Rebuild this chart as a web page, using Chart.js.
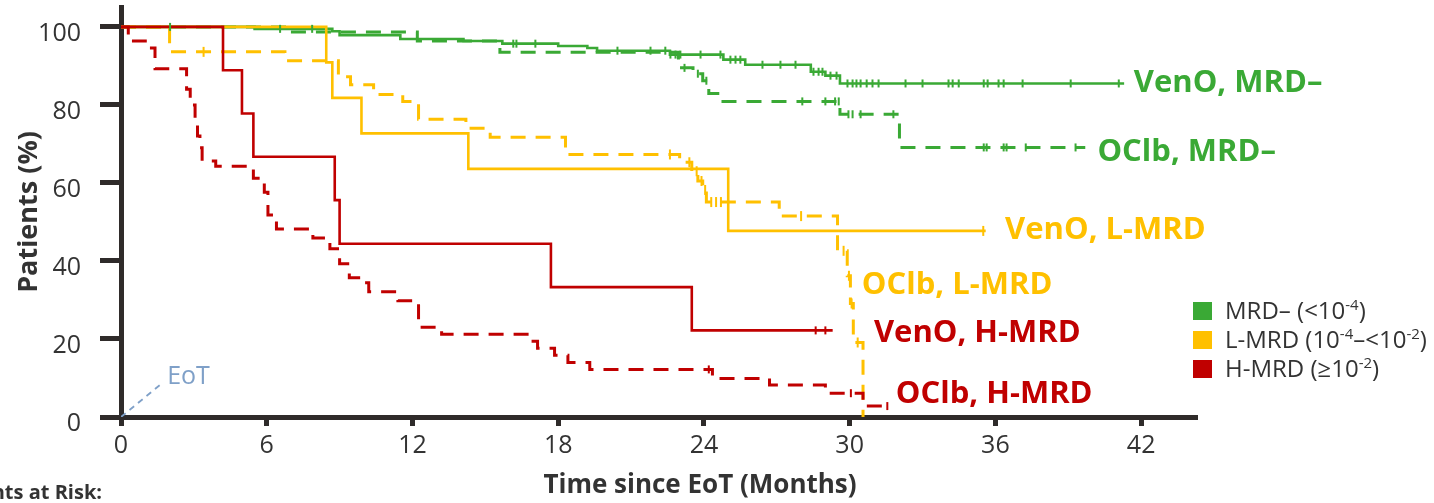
<!DOCTYPE html>
<html><head><meta charset="utf-8">
<script src="https://cdn.jsdelivr.net/npm/chart.js@4.4.1/dist/chart.umd.min.js"></script>
<style>html,body{margin:0;padding:0;background:#fff;}canvas{display:block;}</style>
</head><body>
<canvas id="c" width="1434" height="503"></canvas>
<script>
// ---------- tick labels ----------
const xTicks = [0, 6, 12, 18, 24, 30, 36, 42];
const yTicks = [0, 20, 40, 60, 80, 100];

// ---------- series (months, % patients) ----------
// VenO, MRD– (solid green)
const venoNegT = [0, 5.5, 8.7, 9.0, 11.5, 14.1, 15.7, 18.0, 19.2, 19.6, 22.6, 24.8, 25.7, 28.4, 29.0, 29.6, 41.3];
const venoNegS = [100, 99.5, 98.9, 97.9, 96.9, 96.4, 95.7, 95.1, 94.6, 93.9, 92.9, 91.6, 90.3, 88.5, 87.5, 85.5, 85.5];
const venoNegCens = [6.55, 7.87, 16.15, 16.28, 17.06, 20.44, 21.8, 22.41, 22.62, 22.83, 23.03, 23.86, 24.68, 25.09, 25.3, 25.5, 26.41, 27.15, 27.77, 28.51, 28.72, 28.88, 29.21, 29.46, 29.91, 30.12, 30.28, 30.45, 30.7, 30.94, 31.19, 32.3, 33.0, 34.07, 34.24, 34.49, 35.52, 35.68, 36.13, 36.34, 37.12, 39.1, 41.08];

// OClb, MRD– (dashed green)
const oclbNegT = [0, 6.8, 12.2, 15.6, 22.95, 23.55, 23.95, 24.2, 24.7, 29.6, 32.05, 39.7];
const oclbNegS = [100, 98.7, 96.4, 93.5, 89.5, 88.0, 86.2, 82.9, 80.9, 77.6, 69.1, 69.1];
const oclbNegCens = [2.02, 23.2, 23.75, 24.1, 28.05, 29.0, 29.4, 29.55, 29.95, 30.12, 30.45, 31.8, 35.52, 35.64, 36.34, 36.46, 37.25, 39.3];

// VenO, L-MRD (solid yellow)
const venoLowT = [0, 8.45, 8.7, 9.9, 14.3, 25.0, 35.6];
const venoLowS = [100, 90.9, 81.8, 72.7, 63.6, 47.7, 47.7];
const venoLowCens = [35.5];

// OClb, L-MRD (dashed yellow)
const oclbLowT = [0, 2.0, 6.75, 8.95, 9.45, 10.4, 11.6, 12.25, 14.2, 15.2, 18.3, 23.0, 23.5, 23.75, 23.95, 24.1, 27.1, 29.5, 29.9, 30.03, 30.15, 30.55];
const oclbLowS = [100, 93.6, 91.3, 87.2, 85.2, 82.7, 80.9, 76.3, 74.0, 71.7, 67.3, 65.3, 63.0, 60.5, 58.2, 55.1, 51.5, 42.6, 36.2, 29.1, 19.1, 0];
const oclbLowCens = [3.4, 22.6, 23.4, 23.7, 23.9, 24.05, 24.3, 24.5, 24.7, 28.0, 29.75, 29.97, 30.08, 30.33];

// VenO, H-MRD (solid red)
const venoHighT = [0, 4.2, 4.98, 5.45, 8.8, 9.0, 17.7, 23.5, 29.3];
const venoHighS = [100, 88.9, 77.8, 66.7, 55.6, 44.4, 33.3, 22.2, 22.2];
const venoHighCens = [28.6, 29.0];

// OClb, H-MRD (dashed red)
const oclbHighT = [0, 0.3, 1.0, 1.4, 2.7, 2.85, 3.05, 3.15, 3.25, 3.34, 3.9, 5.45, 5.9, 6.05, 6.4, 7.9, 8.6, 9.0, 9.4, 9.85, 10.2, 11.4, 12.25, 13.2, 16.9, 17.15, 17.85, 18.4, 19.3, 24.35, 26.7, 29.0, 30.55, 31.7];
const oclbHighS = [100, 96.4, 94.6, 89.3, 84.0, 80.0, 76.0, 72.0, 69.0, 65.6, 64.3, 61.2, 57.6, 51.8, 48.2, 45.9, 43.1, 39.3, 35.7, 34.4, 32.1, 29.8, 23.0, 21.2, 19.4, 17.6, 15.8, 14.0, 12.2, 9.9, 8.2, 6.1, 2.8, 2.8];
const oclbHighCens = [24.2, 30.05, 31.55];

// EoT marker line (months, %)
const eotT = [0, 1.7];
const eotS = [0, 8.7];

// ---------- text ----------
const seriesNames = ['VenO, MRD–', 'OClb, MRD–', 'VenO, L-MRD', 'OClb, L-MRD', 'VenO, H-MRD', 'OClb, H-MRD'];
const seriesLabelX = [41.7, 40.2, 36.4, 30.5, 31.0, 31.9];
const seriesLabelY = [83.4, 65.6, 45.7, 31.6, 19.1, 3.6];
const legendParts = [
  [['MRD– (<10', 0], ['-4', 1], [')', 0]],
  [['L-MRD (10', 0], ['-4', 1], ['–<10', 0], ['-2', 1], [')', 0]],
  [['H-MRD (≥10', 0], ['-2', 1], [')', 0]]
];

const GREEN = '#3aa935', YELLOW = '#ffc000', RED = '#c00000', AXIS = '#2f2b2a', EOT = '#7fa0c8';
const FONT = '"Open Sans"';
const seriesColors = [GREEN, GREEN, YELLOW, YELLOW, RED, RED];
const legendColors = [GREEN, YELLOW, RED];

function pts(t, s) { return t.map((x, i) => ({ x: x, y: s[i] })); }
function valueAt(t, s, x) { let v = s[0]; for (let i = 0; i < t.length; i++) { if (t[i] <= x) v = s[i]; } return v; }
function cens(t, s, c) { return c.map(x => ({ x: x, y: valueAt(t, s, x) })); }

function lineDs(t, s, color, dashed, order) {
  return { type: 'scatter', showLine: true, stepped: true, data: pts(t, s), borderColor: color,
    borderWidth: dashed ? 3 : 2.6, borderDash: dashed ? [15, 10] : [], pointRadius: 0, order: order, fill: false };
}
function censDs(t, s, c, color, r) {
  return { type: 'scatter', showLine: false, data: cens(t, s, c), pointStyle: 'line', rotation: 90,
    pointRadius: r, pointBorderWidth: 2, borderColor: color, backgroundColor: color, order: 0 };
}

const datasets = [
  censDs(venoHighT, venoHighS, venoHighCens, RED, 4),
  censDs(oclbHighT, oclbHighS, oclbHighCens, RED, 4),
  censDs(venoLowT, venoLowS, venoLowCens, YELLOW, 5),
  censDs(oclbLowT, oclbLowS, oclbLowCens, YELLOW, 5),
  censDs(venoNegT, venoNegS, venoNegCens, GREEN, 4),
  censDs(oclbNegT, oclbNegS, oclbNegCens, GREEN, 4),
  lineDs(venoHighT, venoHighS, RED, false, 1),
  lineDs(oclbHighT, oclbHighS, RED, true, 2),
  lineDs(venoLowT, venoLowS, YELLOW, false, 3),
  lineDs(oclbLowT, oclbLowS, YELLOW, true, 4),
  lineDs(venoNegT, venoNegS, GREEN, false, 5),
  lineDs(oclbNegT, oclbNegS, GREEN, true, 6),
  { type: 'scatter', showLine: true, data: pts(eotT, eotS), borderColor: EOT, borderWidth: 1.8,
    borderDash: [6, 5], pointRadius: 0, order: 7 }
];

const textPlugin = {
  id: 'texts',
  afterDraw(chart) {
    const ctx = chart.ctx, xs = chart.scales.x, ys = chart.scales.y;
    ctx.save();
    // series labels
    ctx.font = 'bold 31px ' + FONT;
    ctx.textAlign = 'left';
    ctx.textBaseline = 'alphabetic';
    seriesNames.forEach((n, i) => {
      ctx.fillStyle = seriesColors[i];
      ctx.fillText(n, xs.getPixelForValue(seriesLabelX[i]), ys.getPixelForValue(seriesLabelY[i]));
    });
    // EoT label
    ctx.font = '25px ' + FONT;
    ctx.fillStyle = EOT;
    ctx.fillText('EoT', xs.getPixelForValue(1.9), ys.getPixelForValue(8.5));
    // axis titles
    ctx.fillStyle = '#333333';
    ctx.font = 'bold 26px ' + FONT;
    ctx.textAlign = 'center';
    ctx.textBaseline = 'middle';
    ctx.fillText('Time since EoT (Months)', 700, 486);
    ctx.save();
    ctx.font = 'bold 27px ' + FONT;
    ctx.translate(29, (chart.chartArea.top + chart.chartArea.bottom) / 2);
    ctx.rotate(-Math.PI / 2);
    ctx.fillText('Patients (%)', 0, 0);
    ctx.restore();
    ctx.textAlign = 'right';
    ctx.textBaseline = 'alphabetic';
    ctx.font = 'bold 20px ' + FONT;
    ctx.fillText('Patients at Risk:', 102, 499);
    // legend
    ctx.textAlign = 'left';
    ctx.textBaseline = 'alphabetic';
    legendParts.forEach((parts, i) => {
      const base = 319 + i * 29;
      ctx.fillStyle = legendColors[i];
      ctx.fillRect(1193, base - 17, 19, 18);
      let x = 1225;
      parts.forEach(([txt, sup]) => {
        ctx.fillStyle = '#333333';
        if (sup) { ctx.font = '15px ' + FONT; ctx.fillText(txt, x, base - 9); }
        else { ctx.font = '24px ' + FONT; ctx.fillText(txt, x, base); }
        x += ctx.measureText(txt).width;
      });
    });
    ctx.restore();
  }
};

new Chart(document.getElementById('c'), {
  type: 'scatter',
  data: { datasets: datasets },
  options: {
    responsive: false,
    animation: false,
    devicePixelRatio: 1,
    layout: { padding: { left: 0, right: 237, top: 5, bottom: 0 } },
    plugins: { legend: { display: false }, tooltip: { enabled: false } },
    scales: {
      x: {
        type: 'linear', min: 0, max: 44.3,
        afterBuildTicks: s => { s.ticks = xTicks.map(v => ({ value: v })); },
        afterFit: s => { s.height = 86; s.paddingLeft = 0; s.paddingRight = 0; },
        border: { display: true, color: AXIS, width: 5 },
        grid: { drawOnChartArea: false, drawTicks: true, tickLength: 9, tickWidth: 5, tickColor: AXIS, color: AXIS },
        ticks: { font: { family: FONT, size: 25 }, color: '#333333', padding: 5, maxRotation: 0 }
      },
      y: {
        type: 'linear', min: 0, max: 105.1,
        afterBuildTicks: s => { s.ticks = yTicks.map(v => ({ value: v })); },
        afterFit: s => { s.width = 121; s.paddingTop = 0; s.paddingBottom = 0; },
        border: { display: true, color: AXIS, width: 5 },
        grid: { drawOnChartArea: false, drawTicks: true, tickLength: 21, tickWidth: 5, tickColor: AXIS, color: AXIS },
        ticks: { font: { family: FONT, size: 25 }, color: '#333333', padding: 19, labelOffset: 7 }
      }
    }
  },
  plugins: [textPlugin]
});
</script>
</body></html>
